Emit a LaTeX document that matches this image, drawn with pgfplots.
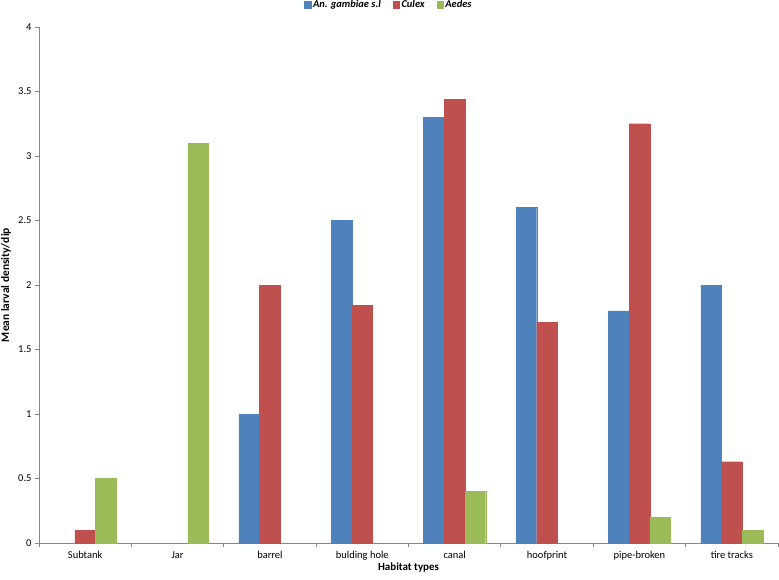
\documentclass[border=0pt]{standalone}
\usepackage{pgfplots}
\pgfplotsset{compat=1.18}
\usepackage{fontspec}
\setmainfont{Carlito}
\definecolor{cblue}{HTML}{4F81BD}
\definecolor{cred}{HTML}{C0504D}
\definecolor{cgreen}{HTML}{9BBB59}
\definecolor{axgray}{HTML}{868686}
\begin{document}
\begin{tikzpicture}
\begin{axis}[
  scale only axis=true,
  width=739bp, height=516bp,
  xmin=-0.5, xmax=7.5, ymin=0, ymax=4,
  ybar=0pt, bar width=0.224,
  axis lines=left,
  axis line style={-, draw=axgray, line width=1pt},
  xtick={0,...,7},
  xticklabels={Subtank,Jar,barrel,bulding hole,canal,hoofprint,pipe-broken,tire tracks},
  major x tick style={draw=none},
  minor xtick={-0.5,0.5,...,7.5},
  minor x tick style={draw=axgray, line width=0.8pt},
  minor tick length=4bp,
  ytick={0,0.5,...,4},
  yticklabel style={/pgf/number format/fixed, /pgf/number format/precision=1},
  y tick style={draw=axgray, line width=0.8pt},
  major tick length=4bp,
  tick align=outside,
  /pgf/number format/assume math mode=true,
  tick label style={font=\fontsize{10.5}{12}\selectfont, text=black},
  xticklabel style={yshift=-1bp},
  xlabel={\textbf{Habitat types}},
  ylabel={\textbf{Mean larval density/dip}},
  every axis x label/.style={at={(rel axis cs:0.5,0)}, anchor=center, yshift=-25bp, font=\fontsize{11}{12}\selectfont},
  every axis y label/.style={at={(axis description cs:-0.0447,0.5)}, anchor=center, rotate=90, font=\fontsize{11.5}{12}\selectfont},
  legend style={at={(rel axis cs:0.4736,1)}, anchor=center, yshift=22bp, draw=none, fill=none,
    legend columns=-1, font=\fontsize{10.5}{12}\selectfont\bfseries\itshape,
    /tikz/every even column/.append style={column sep=10bp}},
  legend image code/.code={\fill[#1] (0cm,-0.1cm) rectangle (0.22cm,0.12cm);},
  clip=false,
]
\addplot[fill=cblue, draw=cblue] coordinates {(2,1.0) (3,2.5) (4,3.3) (5,2.6) (6,1.8) (7,2.0)};
\addplot[fill=cred, draw=cred] coordinates {(0,0.1) (2,2.0) (3,1.84) (4,3.44) (5,1.71) (6,3.25) (7,0.63)};
\addplot[fill=cgreen, draw=cgreen] coordinates {(0,0.5) (1,3.1) (4,0.4) (6,0.2) (7,0.1)};
\legend{An. gambiae s.l, Culex, Aedes}
\coordinate (bl) at (rel axis cs:0,0);
\coordinate (tr) at (rel axis cs:1,1);
\end{axis}
\pgfresetboundingbox
\path ([xshift=-39bp,yshift=-36bp]bl) rectangle ([xshift=1bp,yshift=27bp]tr);
\end{tikzpicture}
\end{document}
